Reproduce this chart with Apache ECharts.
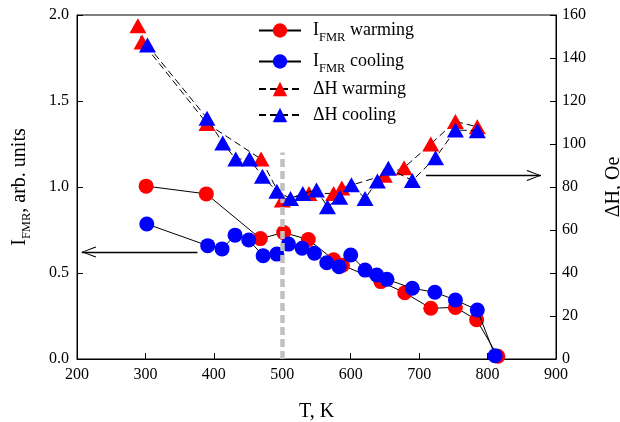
<!DOCTYPE html>
<html>
<head>
<meta charset="utf-8">
<script src="https://cdn.jsdelivr.net/npm/echarts@6/dist/echarts.min.js"></script>
<style>
  html, body { margin: 0; padding: 0; background: #fff; }
  #chart { width: 620px; height: 422px; }
</style>
</head>
<body>
<div id="chart"></div>
<script>
// FMR intensity, warming run: temperature (K) and intensity (arb. units)
const tempWarmI = [301, 389, 468, 502, 538, 575, 588, 644, 679, 717, 753, 784, 815];
const intensityWarm = [1.005, 0.96, 0.70, 0.735, 0.695, 0.577, 0.545, 0.45, 0.385, 0.295, 0.30, 0.228, 0.016];

// FMR intensity, cooling run
const tempCool = [302, 391, 412, 431, 451, 472, 492, 509, 529, 547, 565, 583, 600, 621, 638, 653, 690, 723, 753, 785, 811];
const intensityCool = [0.785, 0.659, 0.64, 0.72, 0.692, 0.60, 0.61, 0.668, 0.644, 0.615, 0.56, 0.537, 0.605, 0.517, 0.488, 0.463, 0.411, 0.388, 0.343, 0.285, 0.019];

// Linewidth dH (Oe), warming run
const tempWarmH = [289, 295, 390, 469, 500, 539, 575, 587, 649, 678, 717, 753, 785];
const widthWarm = [155, 147.5, 109.5, 93, 74, 77, 77, 79.5, 85.5, 89, 100, 110.5, 108];

// Linewidth dH (Oe), cooling run
const tempCoolH = [303, 390, 413, 432, 452, 471, 492, 512, 530, 550, 566, 584, 601, 621, 639, 655, 690, 724, 753, 785];
const widthCool = [146, 112, 100.5, 93, 93, 85, 78, 74.7, 77, 78.6, 70.8, 75.2, 81, 74.7, 82.8, 88.7, 83, 93.6, 106.5, 106.2];

// Axis ranges and tick steps
const tempAxis = { min: 200, max: 900, step: 100 };
const intensityAxis = { min: 0, max: 2, step: 0.5 };
const widthAxis = { min: 0, max: 160, step: 20 };

// Annotation anchors in data units: transition marker and the two axis arrows
const transitionTemp = 500;
const transitionTop = 1.2;
const leftArrow = { from: [376, 0.622], to: [207, 0.622] };
const rightArrow = { from: [710, 85.3], to: [878, 85.3] };

const seriesNames = ['I_FMR warming', 'I_FMR cooling', 'ΔH warming', 'ΔH cooling'];
const legendText = {
  'I_FMR warming': 'I{sub|FMR} warming',
  'I_FMR cooling': 'I{sub|FMR} cooling',
  'ΔH warming': 'ΔH warming',
  'ΔH cooling': 'ΔH cooling'
};
// legend row tops (one legend block per row)
const legendTops = [12, 43, 75, 101];

const FONT = 'Liberation Serif';
const subStyle = { fontFamily: FONT, fontSize: 12.5, padding: [14, 0, 0, 0], color: '#000' };

function pairs(xs, ys) { return xs.map((x, i) => [x, ys[i]]); }

// open chevron arrow head; the leading moveTo keeps the tip at the symbol centre
const chevron = 'path://M5.5,-14 M0,14 L5.5,0 L11,14 L10,14.6 L5.5,2.2 L1,14.6 Z';

const chart = echarts.init(document.getElementById('chart'), null, { renderer: 'canvas' });

const legends = seriesNames.map((name, i) => ({
  data: [name],
  orient: 'vertical',
  left: 253, top: legendTops[i],
  itemWidth: 42, itemHeight: 18,
  formatter: n => legendText[n],
  textStyle: {
    fontFamily: FONT, fontSize: 18, color: '#000', lineHeight: 18, padding: [0, 0, 0, 7],
    rich: { sub: Object.assign({ lineHeight: 18 }, subStyle) }
  }
}));

chart.setOption({
  animation: false,
  backgroundColor: '#fff',
  textStyle: { fontFamily: FONT },
  grid: {
    left: 77, right: 64, top: 15, bottom: 63,
    outerBoundsMode: 'none',
    containLabel: false,
    show: true, borderColor: '#000', borderWidth: 1, backgroundColor: 'transparent'
  },
  legend: legends,
  xAxis: {
    type: 'value',
    min: tempAxis.min, max: tempAxis.max, interval: tempAxis.step,
    name: 'T, K', nameLocation: 'middle', nameGap: 43,
    nameTextStyle: { fontFamily: FONT, fontSize: 20, color: '#000' },
    axisLine: { lineStyle: { color: '#000', width: 1 } },
    axisTick: { inside: true, length: 6, lineStyle: { color: '#000' } },
    axisLabel: { fontFamily: FONT, fontSize: 16, color: '#000', margin: 8 },
    splitLine: { show: false }
  },
  yAxis: [
    {
      type: 'value', position: 'left',
      min: intensityAxis.min, max: intensityAxis.max, interval: intensityAxis.step,
      name: 'I{sub|FMR}, arb. units', nameLocation: 'middle', nameGap: 47, nameRotate: 90,
      nameTextStyle: {
        fontFamily: FONT, fontSize: 20, color: '#000',
        rich: { sub: Object.assign({ lineHeight: 20 }, subStyle) }
      },
      axisLine: { show: true, lineStyle: { color: '#000', width: 1 } },
      axisTick: { show: true, inside: true, length: 6, lineStyle: { color: '#000' } },
      axisLabel: { fontFamily: FONT, fontSize: 16, color: '#000', margin: 8, formatter: v => v.toFixed(1) },
      splitLine: { show: false }
    },
    {
      type: 'value', position: 'right',
      min: widthAxis.min, max: widthAxis.max, interval: widthAxis.step,
      name: 'ΔH, Oe', nameLocation: 'middle', nameGap: 48, nameRotate: 90,
      nameTextStyle: { fontFamily: FONT, fontSize: 20, color: '#000' },
      axisLine: { show: true, lineStyle: { color: '#000', width: 1 } },
      axisTick: { show: true, inside: true, length: 6, lineStyle: { color: '#000' } },
      axisLabel: { fontFamily: FONT, fontSize: 16, color: '#000', margin: 6 },
      splitLine: { show: false }
    }
  ],
  series: [
    {
      name: seriesNames[0], type: 'line', yAxisIndex: 0,
      data: pairs(tempWarmI, intensityWarm),
      symbol: 'circle', symbolSize: 15,
      itemStyle: { color: '#ff0000' },
      lineStyle: { color: '#000', width: 1 },
      z: 2,
      markLine: {
        silent: true, animation: false,
        label: { show: false },
        data: [
          [
            { coord: [transitionTemp, intensityAxis.min], symbol: 'none',
              lineStyle: { color: '#c0c0c0', width: 4.5, type: [8, 4] } },
            { coord: [transitionTemp, transitionTop], symbol: 'none' }
          ],
          [
            { coord: leftArrow.from, symbol: 'none', lineStyle: { color: '#000', width: 1.3, type: 'solid' } },
            { coord: leftArrow.to, symbol: chevron, symbolSize: [11, 28.6] }
          ]
        ]
      }
    },
    {
      name: seriesNames[1], type: 'line', yAxisIndex: 0,
      data: pairs(tempCool, intensityCool),
      symbol: 'circle', symbolSize: 15,
      itemStyle: { color: '#0000ff' },
      lineStyle: { color: '#000', width: 1 },
      z: 3
    },
    {
      name: seriesNames[2], type: 'line', yAxisIndex: 1,
      data: pairs(tempWarmH, widthWarm),
      symbol: 'triangle', symbolSize: [17, 15],
      itemStyle: { color: '#ff0000' },
      lineStyle: { color: '#000', width: 1, type: [7, 4] },
      z: 4,
      markLine: {
        silent: true, animation: false,
        label: { show: false },
        data: [
          [
            { coord: rightArrow.from, symbol: 'none', lineStyle: { color: '#000', width: 1.3, type: 'solid' } },
            { coord: rightArrow.to, symbol: chevron, symbolSize: [11, 28.6] }
          ]
        ]
      }
    },
    {
      name: seriesNames[3], type: 'line', yAxisIndex: 1,
      data: pairs(tempCoolH, widthCool),
      symbol: 'triangle', symbolSize: [17, 15],
      itemStyle: { color: '#0000ff' },
      lineStyle: { color: '#000', width: 1, type: [7, 4] },
      z: 5
    }
  ]
});
</script>
</body>
</html>
